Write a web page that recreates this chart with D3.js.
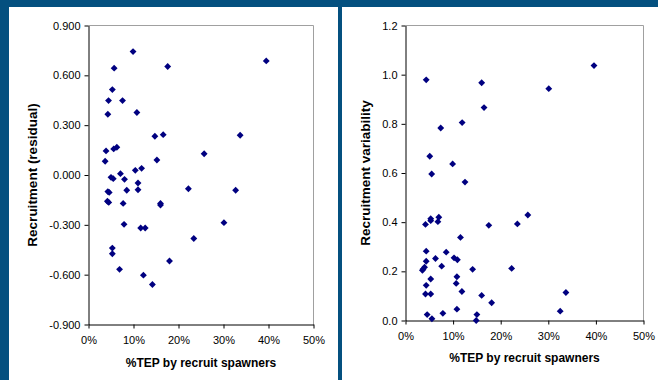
<!DOCTYPE html>
<html>
<head>
<meta charset="utf-8">
<script src="https://cdn.jsdelivr.net/npm/d3@7"></script>
<style>
  html, body { margin: 0; padding: 0; background: #04507f; }
  svg { display: block; }
  text { font-family: "Liberation Sans", Arial, sans-serif; fill: #000; }
</style>
</head>
<body>
<svg id="chart" width="658" height="380"></svg>
<script>
// ---- Data ----
const xTickValues = [0, 10, 20, 30, 40, 50];           // %TEP
const leftYTicks = [-0.9, -0.6, -0.3, 0, 0.3, 0.6, 0.9];
const rightYTicks = [0, 0.2, 0.4, 0.6, 0.8, 1.0, 1.2];

const leftX = [9.9, 39.5, 17.6, 5.7, 5.3, 4.45, 7.56, 10.75, 4.3, 14.75, 16.6, 33.7, 3.9, 5.6, 6.3,
  25.7, 3.7, 15.2, 7.1, 10.4, 11.8, 5.0, 5.5, 8.0, 11.0, 22.2, 32.7, 4.3, 4.6, 8.5,
  11.0, 4.2, 4.5, 7.7, 16.0, 16.0, 7.9, 11.6, 12.6, 30.1, 23.4, 5.3, 5.3, 18.0, 6.9, 12.2, 14.2];
const leftY = [0.743, 0.687, 0.653, 0.643, 0.514, 0.448, 0.448, 0.376, 0.366, 0.233, 0.243, 0.239, 0.145, 0.157, 0.167,
  0.128, 0.083, 0.090, 0.008, 0.028, 0.040, -0.014, -0.022, -0.026, -0.048, -0.083, -0.092, -0.100, -0.105, -0.092,
  -0.089, -0.158, -0.165, -0.171, -0.171, -0.181, -0.297, -0.319, -0.319, -0.287, -0.382, -0.440, -0.474, -0.518, -0.568, -0.603, -0.659];

const rightX = [39.6, 4.35, 16.0, 30.1, 16.5, 11.9, 7.4, 5.1, 9.9, 5.5, 12.5, 25.7, 5.3, 5.3, 7.0,
  6.8, 4.2, 17.5, 23.5, 11.55, 4.35, 8.55, 6.3, 10.2, 10.9, 4.35, 7.6, 4.0, 3.7, 3.55,
  14.1, 22.3, 5.3, 10.8, 10.65, 4.35, 11.85, 33.7, 4.2, 5.3, 16.0, 18.1, 7.85, 10.8, 32.5,
  4.55, 15.0, 5.55, 14.85];
const rightY = [1.037, 0.979, 0.967, 0.943, 0.866, 0.805, 0.783, 0.668, 0.637, 0.596, 0.563, 0.429, 0.414, 0.406, 0.420,
  0.402, 0.391, 0.387, 0.393, 0.338, 0.282, 0.278, 0.252, 0.255, 0.247, 0.241, 0.221, 0.217, 0.209, 0.204,
  0.208, 0.212, 0.169, 0.178, 0.151, 0.143, 0.118, 0.114, 0.108, 0.108, 0.102, 0.072, 0.029, 0.046, 0.038,
  0.024, 0.024, 0.007, 0.0];

const xTitle = "%TEP by recruit spawners";
const leftYTitle = "Recruitment (residual)";
const rightYTitle = "Recruitment variability";

// ---- Drawing ----
const loc = d3.formatLocale({decimal: ".", thousands: ",", grouping: [3], currency: ["", ""], minus: "-"});
const svg = d3.select("#chart");
svg.append("rect").attr("x", 0).attr("y", 0).attr("width", 658).attr("height", 380).attr("fill", "#04507f");
svg.append("rect").attr("x", 9).attr("y", 7).attr("width", 329).attr("height", 373).attr("fill", "#fff");
svg.append("rect").attr("x", 342).attr("y", 7).attr("width", 316).attr("height", 380).attr("fill", "#fff");

function panel(cfg) {
  const g = svg.append("g");
  const x = d3.scaleLinear().domain([0, 50]).range([cfg.x0, cfg.x1]);
  const y = d3.scaleLinear().domain(cfg.yDomain).range([cfg.y1, cfg.y0]);

  // gray frame (top/right)
  g.append("path")
    .attr("d", `M${cfg.x0},${cfg.y0}H${cfg.x1}V${cfg.y1}`)
    .attr("fill", "none").attr("stroke", "#a0a0a0").attr("stroke-width", 1);

  const xAxis = g.append("g").attr("transform", `translate(0,${cfg.y1})`)
    .call(d3.axisBottom(x).tickValues(xTickValues).tickFormat(d => d + "%")
      .tickSize(4).tickSizeOuter(0).tickPadding(8));
  const yAxis = g.append("g").attr("transform", `translate(${cfg.x0},0)`)
    .call(d3.axisLeft(y).tickValues(cfg.yTicks).tickFormat(cfg.yFmt)
      .tickSize(4).tickSizeOuter(0).tickPadding(4));
  [xAxis, yAxis].forEach(a => {
    a.select(".domain").attr("stroke", "#000");
    a.selectAll(".tick line").attr("stroke", "#000");
    a.selectAll("text").attr("font-size", 11).attr("fill", "#222")
      .attr("font-family", "'Liberation Sans', Arial, sans-serif");
  });

  const sym = d3.symbol().type(d3.symbolDiamond2).size(30);
  g.append("g").selectAll("path").data(cfg.xs.map((v, i) => [v, cfg.ys[i]]))
    .join("path")
    .attr("d", sym)
    .attr("transform", d => `translate(${x(d[0])},${y(d[1])})`)
    .attr("fill", "#000080");

  g.append("text")
    .attr("x", (cfg.x0 + cfg.x1) / 2).attr("y", cfg.xTitleY)
    .attr("text-anchor", "middle").attr("font-size", 12).attr("font-weight", "bold")
    .text(xTitle);
  g.append("text")
    .attr("transform", `translate(${cfg.yTitleX},${(cfg.y0 + cfg.y1) / 2}) rotate(-90)`)
    .attr("text-anchor", "middle").attr("font-size", 13.5).attr("font-weight", "bold")
    .text(cfg.yTitle);
}

panel({
  x0: 88.5, x1: 313.5, y0: 25.5, y1: 324.5,
  yDomain: [-0.9, 0.9], yTicks: leftYTicks, yFmt: loc.format(".3f"),
  xs: leftX, ys: leftY, xTitleY: 366.5, yTitleX: 36.5, yTitle: leftYTitle
});
panel({
  x0: 405.5, x1: 643.5, y0: 25.5, y1: 320.5,
  yDomain: [0, 1.2], yTicks: rightYTicks, yFmt: loc.format(".1f"),
  xs: rightX, ys: rightY, xTitleY: 362, yTitleX: 369.5, yTitle: rightYTitle
});
</script>
</body>
</html>
